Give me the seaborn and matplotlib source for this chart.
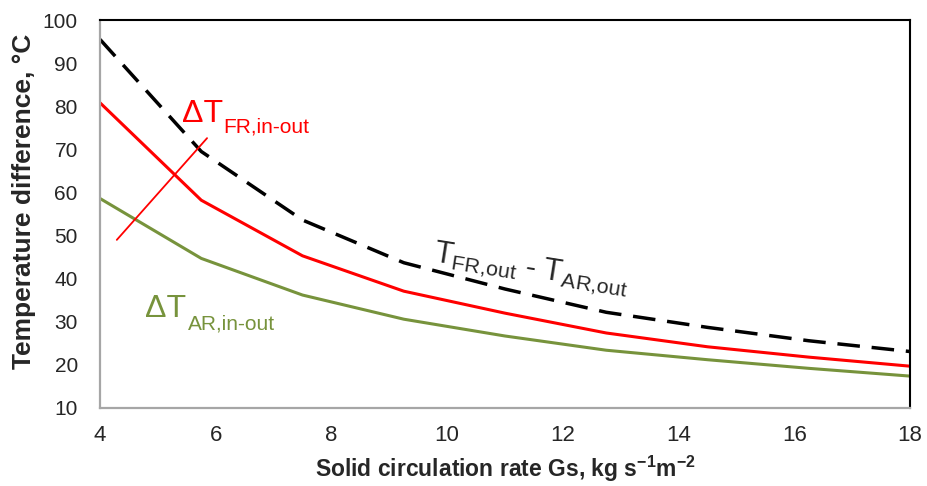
import matplotlib
matplotlib.use('Agg')
import matplotlib.pyplot as plt
import seaborn as sns

#%% data
gs = [4, 5.75, 7.5, 9.25, 11, 12.75, 14.5, 16.25, 18]
dt_out = [95.5, 69.5, 53.6, 43.7, 37.6, 32.2, 28.7, 25.6, 23.1]   # T_FR,out - T_AR,out
dt_fr = [80.8, 58.2, 45.3, 37.1, 32.0, 27.4, 24.2, 21.8, 19.7]    # dT FR,in-out
dt_ar = [58.6, 44.7, 36.2, 30.6, 26.7, 23.4, 21.2, 19.2, 17.4]    # dT AR,in-out
xticks = [4, 6, 8, 10, 12, 14, 16, 18]
yticks = [10, 20, 30, 40, 50, 60, 70, 80, 90, 100]

#%% style
sns.set_style('white')
plt.rcParams['font.family'] = ['Liberation Sans', 'DejaVu Sans']
plt.rcParams['mathtext.fontset'] = 'custom'
plt.rcParams['mathtext.rm'] = 'Liberation Sans'
plt.rcParams['mathtext.it'] = 'Liberation Sans'
plt.rcParams['mathtext.bf'] = 'Liberation Sans:bold'

red = '#ff0000'
olive = '#77933c'

fig, ax = plt.subplots(figsize=(9.27, 4.86), dpi=100)
plt.subplots_adjust(left=0.1079, right=0.9817, top=0.9588, bottom=0.1605)

sns.lineplot(x=gs, y=dt_out, color='black', lw=2.5, ax=ax)
ax.lines[-1].set_dashes((6.5, 3.4))
sns.lineplot(x=gs, y=dt_fr, color=red, lw=2.2, ax=ax)
sns.lineplot(x=gs, y=dt_ar, color=olive, lw=2.2, ax=ax)

ax.set_xlim(4, 18)
ax.set_ylim(10, 100)
ax.set_xticks(xticks)
ax.set_yticks(yticks)
ax.tick_params(length=0)
ax.tick_params(axis='x', labelsize=16, pad=12)
ax.tick_params(axis='y', labelsize=15, pad=16)

ax.set_ylabel('Temperature difference, °C', fontsize=19, fontweight='bold')
ax.yaxis.set_label_coords(-0.079, 0.533)
ax.set_xlabel(r'Solid circulation rate Gs, kg s$^{\mathbf{-1}}$m$^{\mathbf{-2}}$',
              fontsize=16.5, fontweight='bold', labelpad=5.5)

for side in ['left', 'bottom']:
    ax.spines[side].set_color('#a6a6a6')
    ax.spines[side].set_linewidth(1.6)
for side in ['top', 'right']:
    ax.spines[side].set_color('black')
    ax.spines[side].set_linewidth(1.5)

# labels on the curves
ax.text(5.41, 76.3, 'ΔT', color=red, fontsize=23, va='baseline')
ax.text(6.13, 73.8, 'FR,in-out', color=red, fontsize=15, va='baseline')
ax.plot([4.29, 5.85], [49, 72.6], color=red, lw=1.3)

ax.text(4.78, 31.2, 'ΔT', color=olive, fontsize=23, va='baseline')
ax.text(5.52, 28.1, 'AR,in-out', color=olive, fontsize=15, va='baseline')

ax.text(9.755, 43.9, r'$\mathrm{T}_{\mathrm{FR{,}out}}$ - $\mathrm{T}_{\mathrm{AR{,}out}}$',
        fontsize=22, rotation=-9, rotation_mode='anchor', ha='left', va='baseline')

fig.savefig('out.png', dpi=100)
